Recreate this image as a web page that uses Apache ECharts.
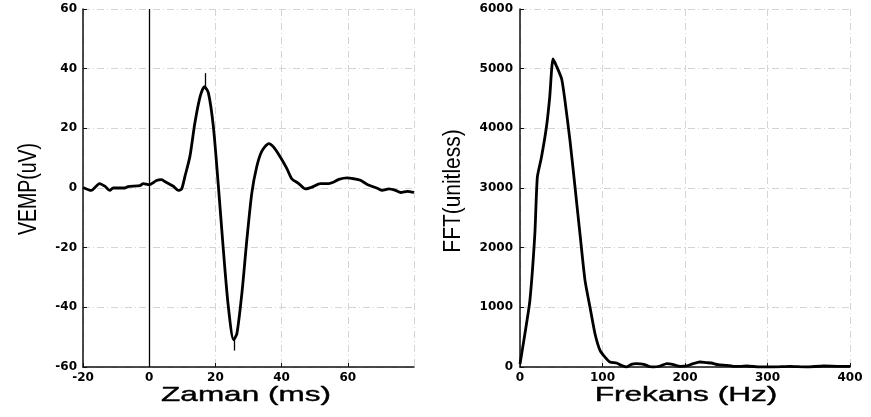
<!DOCTYPE html>
<html>
<head>
<meta charset="utf-8">
<script src="https://cdn.jsdelivr.net/npm/echarts@6/dist/echarts.min.js"></script>
<style>html,body{margin:0;padding:0;background:#fff}#c{width:871px;height:417px}</style>
</head>
<body>
<div id="c"></div>
<script>
// VEMP waveform: time (ms) and amplitude (uV)
const vempTime = [-20,-17.5,-15,-13.4,-11.9,-10.9,-7.4,-6.4,-2.8,-1.8,0,2.2,3.7,4.7,7.3,8.8,9.8,10.8,12.3,13.8,15.4,16.7,17.9,19.4,20.9,22.4,23.9,25.5,26.5,28,29.5,31,32.5,34,36.1,37.6,39.6,41.6,43.1,45.2,47.2,49.2,51.7,54.2,55.8,57.3,59.8,61.8,63.8,65.9,68.9,70.4,72.4,74.4,76,78,80];
const vempValue = [0.2,-0.8,1.5,0.6,-0.8,0,0,0.5,0.8,1.5,1.1,2.5,2.8,2.2,0.6,-0.8,-0.3,3.9,10.6,21.8,30.7,34,31.8,20.4,0.6,-20.7,-39.7,-50.9,-48.8,-35.3,-17.4,-1.7,7.2,12.3,14.9,13.7,10.4,6.5,3.1,1.5,-0.3,0.3,1.5,1.5,2,2.9,3.4,3.1,2.6,1.2,-0.1,-0.8,-0.3,-0.8,-1.5,-1.1,-1.5];
// peak markers: [time, from, to]
const peakMarks = [[16.8, 33, 38.5], [25.7, -50, -54.5]];
// FFT spectrum: frequency (Hz) and magnitude
const fftFreq = [0,6,12,18,21,26,32,36,40,44,50.5,54.5,60.6,66.7,72.7,78.8,84.8,90.9,97,103,109,117,123,129,135,141,150,156,162,170,178,186,194,202,210,218,226,232,240,251,259,267,275,291,307,327,347,368,388,400];
const fftValue = [50,560,1116,2232,3180,3516,4018,4520,5162,5050,4827,4464,3795,3013,2232,1451,1005,558,279,167,84,67,28,0,45,56,45,11,0,17,56,39,11,17,56,84,73,67,39,28,11,11,17,0,0,11,0,17,11,11];
// axis settings
const timeTicks = {min: -20, max: 80, interval: 20};
const vempTicks = {min: -60, max: 60, interval: 20};
const freqTicks = {min: 0, max: 400, interval: 100};
const fftTicks = {min: 0, max: 6000, interval: 1000};

const labelStyle = {color: '#000', fontFamily: 'DejaVu Sans', fontWeight: 'bold', fontSize: 12, formatter: v => String(v)};
const gridLine = {show: true, lineStyle: {color: '#d4d4d4', width: 1, type: [7, 3, 1, 3]}};
const axLine = {show: true, onZero: false, lineStyle: {color: '#111', width: 1.5}};
const axTick = {show: true, inside: true, length: 4, lineStyle: {color: '#111', width: 1}};

const chart = echarts.init(document.getElementById('c'), null, {renderer: 'canvas'});
chart.setOption({
  animation: false,
  backgroundColor: '#fff',
  grid: [
    {left: 83, right: 457, top: 9, bottom: 50},
    {left: 520, right: 21, top: 9, bottom: 50}
  ],
  xAxis: [
    {gridIndex: 0, type: 'value', min: timeTicks.min, max: timeTicks.max, interval: timeTicks.interval,
     axisLine: axLine, axisTick: axTick, splitLine: gridLine,
     axisLabel: Object.assign({margin: 5, showMaxLabel: false}, labelStyle)},
    {gridIndex: 1, type: 'value', min: freqTicks.min, max: freqTicks.max, interval: freqTicks.interval,
     axisLine: axLine, axisTick: axTick, splitLine: gridLine,
     axisLabel: Object.assign({margin: 5}, labelStyle)}
  ],
  yAxis: [
    {gridIndex: 0, type: 'value', min: vempTicks.min, max: vempTicks.max, interval: vempTicks.interval,
     axisLine: axLine, axisTick: axTick, splitLine: gridLine,
     axisLabel: Object.assign({margin: 6}, labelStyle)},
    {gridIndex: 1, type: 'value', min: fftTicks.min, max: fftTicks.max, interval: fftTicks.interval,
     axisLine: axLine, axisTick: axTick, splitLine: gridLine,
     axisLabel: Object.assign({margin: 7}, labelStyle)}
  ],
  series: [
    {type: 'line', xAxisIndex: 0, yAxisIndex: 0, showSymbol: false, smooth: 0.25,
     data: vempTime.map((t, i) => [t, vempValue[i]]),
     lineStyle: {color: '#000', width: 2.8},
     markLine: {silent: true, symbol: 'none', label: {show: false},
       lineStyle: {color: '#000', width: 1.3, type: 'solid'},
       data: [{xAxis: 0}].concat(peakMarks.map(p => [{coord: [p[0], p[1]]}, {coord: [p[0], p[2]]}]))}},
    {type: 'line', xAxisIndex: 1, yAxisIndex: 1, showSymbol: false, smooth: 0.2,
     data: fftFreq.map((f, i) => [f, fftValue[i]]),
     lineStyle: {color: '#000', width: 2.8}}
  ],
  graphic: [
    {type: 'text', x: 246, y: 395, scaleX: 1.5,
     style: {text: 'Zaman (ms)', font: '21px "Liberation Sans"', fill: '#000', textAlign: 'center', textVerticalAlign: 'middle', stroke: '#000', lineWidth: 0.4}},
    {type: 'text', x: 686, y: 395, scaleX: 1.58,
     style: {text: 'Frekans (Hz)', font: '20px "Liberation Sans"', fill: '#000', textAlign: 'center', textVerticalAlign: 'middle', stroke: '#000', lineWidth: 0.4}},
    {type: 'text', x: 29, y: 189, rotation: Math.PI / 2, scaleX: 0.78,
     style: {text: 'VEMP(uV)', font: '25px "Liberation Sans"', fill: '#000', textAlign: 'center', textVerticalAlign: 'middle'}},
    {type: 'text', x: 454, y: 191, rotation: Math.PI / 2, scaleX: 0.91,
     style: {text: 'FFT(unitless)', font: '23px "Liberation Sans"', fill: '#000', textAlign: 'center', textVerticalAlign: 'middle'}}
  ]
});
</script>
</body>
</html>
